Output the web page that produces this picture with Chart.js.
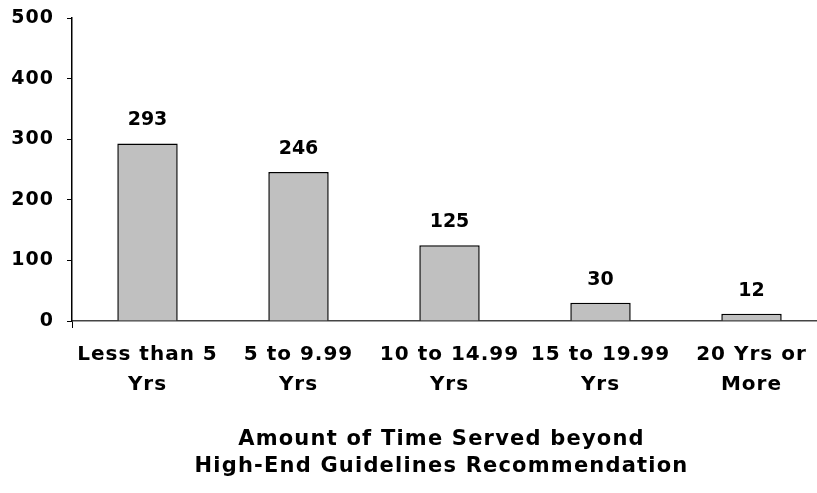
<!DOCTYPE html>
<html>
<head>
<meta charset="utf-8">
<script src="https://cdn.jsdelivr.net/npm/chart.js@4"></script>
<style>
  html, body { margin: 0; padding: 0; background: #fff; overflow: hidden; }
  #wrap { position: absolute; left: 0; top: 0; width: 827px; height: 493px; }
</style>
</head>
<body>
<div id="wrap"><canvas id="myChart"></canvas></div>
<script>
"use strict";
const categories = [
    ['Less than 5', 'Yrs'],
    ['5 to 9.99', 'Yrs'],
    ['10 to 14.99', 'Yrs'],
    ['15 to 19.99', 'Yrs'],
    ['20 Yrs or', 'More']
];
const counts = [293, 246, 125, 30, 12];
const yTicks = [0, 100, 200, 300, 400, 500];
const axisTitle = ['Amount of Time Served beyond', 'High-End Guidelines Recommendation'];

// the original text is a wide bold sans, DejaVu Sans Bold is the closest in width
const FONT = '"DejaVu Sans", "Liberation Sans", Arial, sans-serif';
const SPACING = '1px';

const wideText = {
    id: 'wideText',
    beforeLayout(chart) { chart.ctx.letterSpacing = SPACING; },
    beforeDraw(chart) { chart.ctx.letterSpacing = SPACING; }
};

// value labels above each bar and the two-line axis title
const extraText = {
    id: 'extraText',
    afterDatasetsDraw(chart) {
        const ctx = chart.ctx;
        const meta = chart.getDatasetMeta(0);
        ctx.save();
        ctx.letterSpacing = '0px';
        ctx.font = 'bold 19px ' + FONT;
        ctx.fillStyle = '#000';
        ctx.textAlign = 'center';
        ctx.textBaseline = 'alphabetic';
        meta.data.forEach((bar, i) => {
            ctx.fillText(String(counts[i]), bar.x, bar.y - 18);
        });

        const area = chart.chartArea;
        const cx = (area.left + area.right) / 2 - 8;
        ctx.letterSpacing = '1.2px';
        ctx.font = 'bold 21px ' + FONT;
        ctx.textBaseline = 'middle';
        axisTitle.forEach((line, i) => {
            ctx.fillText(line, cx, 440 + i * 27);
        });
        ctx.restore();
    }
};

document.addEventListener('DOMContentLoaded', () => {
    const canvas = document.getElementById('myChart');
    const ctx = canvas.getContext('2d');
    new Chart(ctx, {
        type: 'bar',
        data: {
            labels: categories,
            datasets: [{
                data: counts,
                backgroundColor: '#c0c0c0',
                borderColor: '#000',
                borderWidth: 1.5,
                categoryPercentage: 1,
                barPercentage: 0.4
            }]
        },
        options: {
            responsive: true,
            maintainAspectRatio: false,
            animation: false,
            layout: { padding: 0 },
            plugins: {
                legend: { display: false },
                tooltip: { enabled: false }
            },
            scales: {
                x: {
                    offset: true,
                    border: { display: true, color: '#444', width: 1.5 },
                    grid: {
                        offset: true,
                        drawOnChartArea: false,
                        tickLength: 7,
                        color: (c) => c.index === 0 ? '#000' : 'rgba(0,0,0,0)'
                    },
                    ticks: {
                        color: '#000',
                        font: { family: FONT, size: 20, weight: 'bold', lineHeight: 1.5 },
                        padding: 12,
                        maxRotation: 0,
                        autoSkip: false
                    },
                    afterFit(scale) { scale.height = 172; }
                },
                y: {
                    min: 0,
                    max: 500,
                    afterBuildTicks(scale) { scale.ticks = yTicks.map(v => ({ value: v })); },
                    border: { display: true, color: '#000', width: 1.5 },
                    grid: {
                        drawOnChartArea: false,
                        tickLength: 5,
                        color: '#000'
                    },
                    ticks: {
                        color: '#000',
                        font: { family: FONT, size: 19, weight: 'bold' },
                        padding: 13
                    },
                    afterFit(scale) {
                        scale.width = 72;
                        scale.paddingTop = 18;
                        scale.paddingBottom = 0;
                    }
                }
            }
        },
        plugins: [wideText, extraText]
    });
});
</script>
</body>
</html>
